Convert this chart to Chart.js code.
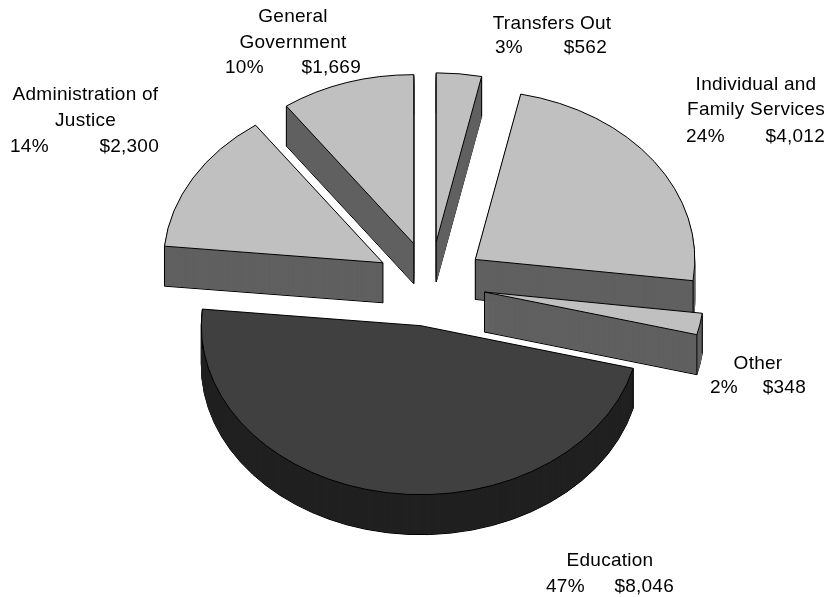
<!DOCTYPE html>
<html>
<head>
<meta charset="utf-8">
<style>
  html, body { margin: 0; padding: 0; background: #fff; }
  #wrap { width: 831px; height: 597px; }
</style>
<script src="https://cdn.jsdelivr.net/npm/chart.js@4"></script>
</head>
<body>
<div id="wrap"><canvas id="pie" width="831" height="597"></canvas></div>
<script>
const categories = ['Transfers Out', 'Individual and Family Services', 'Other', 'Education', 'Administration of Justice', 'General Government'];
const amounts = [562, 4012, 348, 8046, 2300, 1669];
const percents = ['3%', '24%', '2%', '47%', '14%', '10%'];
const amountLabels = ['$562', '$4,012', '$348', '$8,046', '$2,300', '$1,669'];
const nameLines = [['Transfers Out'], ['Individual and', 'Family Services'], ['Other'], ['Education'], ['Administration of', 'Justice'], ['General', 'Government']];
const topColors = ['#c0c0c0', '#c0c0c0', '#c0c0c0', '#404040', '#c0c0c0', '#c0c0c0'];
const wallColors = ['#606060', '#606060', '#606060', '#202020', '#606060', '#606060'];

// back to front
const drawOrder = [0, 5, 4, 1, 2, 3];

const squash = 0.77, depth = 40, explode = 55;

// cx = centre of name lines, y = baselines, px/ax = left of percent and right of amount
const labelBoxes = [
  { cx: 552, y: [29], py: 53, px: 495, ax: 607 },
  { cx: 756, y: [90, 115], py: 142, px: 686, ax: 825 },
  { cx: 758, y: [369], py: 393, px: 710, ax: 806 },
  { cx: 610, y: [566], py: 592, px: 546, ax: 674 },
  { cx: 85.5, y: [100, 126], py: 152, px: 10, ax: 159 },
  { cx: 293, y: [22, 48], py: 73, px: 225, ax: 361 }
];

function wedge(ctx, arc, dy) {
  const mid = (arc.startAngle + arc.endAngle) / 2;
  const r = arc.outerRadius;
  const cx = arc.x + Math.cos(mid) * explode;
  const cy = arc.y + Math.sin(mid) * explode * squash + dy;
  ctx.beginPath();
  ctx.moveTo(cx, cy);
  ctx.ellipse(cx, cy, r, r * squash, 0, arc.startAngle, arc.endAngle);
  ctx.closePath();
  return { cx, cy, r };
}

const pie3d = {
  id: 'pie3d',
  beforeDatasetsDraw(chart) {
    const ctx = chart.ctx;
    const arcs = chart.getDatasetMeta(0).data;
    ctx.save();
    ctx.lineJoin = 'round';
    ctx.lineWidth = 1;
    drawOrder.forEach(i => {
      const arc = arcs[i];
      // side wall: the wedge swept downwards
      ctx.fillStyle = wallColors[i];
      ctx.strokeStyle = '#000';
      wedge(ctx, arc, depth);
      ctx.fill();
      ctx.stroke();
      ctx.strokeStyle = wallColors[i];
      for (let d = depth - 1; d > 0; d--) {
        wedge(ctx, arc, d);
        ctx.fill();
        ctx.stroke();
      }
      // upright edges of the prism
      ctx.strokeStyle = '#000';
      const { cx, cy, r } = wedge(ctx, arc, 0);
      ctx.beginPath();
      [[cx, cy], [cx + Math.cos(arc.startAngle) * r, cy + Math.sin(arc.startAngle) * r * squash],
       [cx + Math.cos(arc.endAngle) * r, cy + Math.sin(arc.endAngle) * r * squash]].forEach(p => {
        ctx.moveTo(p[0], p[1]);
        ctx.lineTo(p[0], p[1] + depth);
      });
      ctx.stroke();
      // top face
      wedge(ctx, arc, 0);
      ctx.fillStyle = arc.options.backgroundColor;
      ctx.fill();
      ctx.stroke();
    });
    ctx.restore();
    return false;
  },
  afterDraw(chart) {
    const ctx = chart.ctx;
    ctx.save();
    ctx.font = '19px "Liberation Sans", Arial, sans-serif';
    ctx.letterSpacing = '0.25px';
    ctx.fillStyle = '#000';
    labelBoxes.forEach((b, i) => {
      ctx.textAlign = 'center';
      nameLines[i].forEach((line, k) => ctx.fillText(line, b.cx, b.y[k]));
      ctx.textAlign = 'left';
      ctx.fillText(percents[i], b.px, b.py);
      ctx.textAlign = 'right';
      ctx.fillText(amountLabels[i], b.ax, b.py);
    });
    ctx.restore();
  }
};

new Chart(document.getElementById('pie'), {
  type: 'pie',
  data: {
    labels: categories,
    datasets: [{ data: amounts, backgroundColor: topColors, radius: 219.5 }]
  },
  options: {
    responsive: false,
    animation: false,
    events: [],
    layout: { padding: { left: 30, bottom: 29 } },
    plugins: { legend: { display: false }, tooltip: { enabled: false } }
  },
  plugins: [pie3d]
});
</script>
</body>
</html>
